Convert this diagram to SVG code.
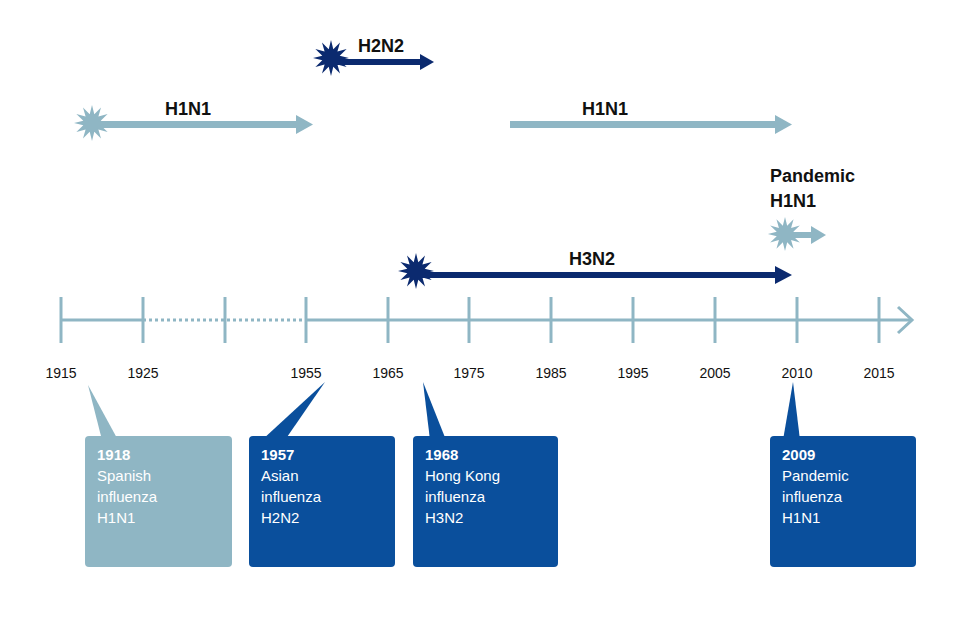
<svg xmlns="http://www.w3.org/2000/svg" width="960" height="640" viewBox="0 0 960 640">
<style>
text{font-family:"Liberation Sans",Arial,sans-serif}
.yr{font-size:14px;fill:#111;text-anchor:middle}
.lbl{font-size:18px;font-weight:bold;fill:#111}
.bt{font-size:15px;fill:#fff}
.light{fill:#8fb6c4}
.dark{fill:#0b2a6f}
.box{fill:#0a4f9c}
.lboxf{fill:#8fb6c4}
.ax{stroke:#8fb6c4;stroke-width:3;fill:none}
</style>
<defs>
<polygon id="star" points="18,0 8.7,2.3 15.6,9 6.4,6.4 9,15.6 2.3,8.7 0,18 -2.3,8.7 -9,15.6 -6.4,6.4 -15.6,9 -8.7,2.3 -18,0 -8.7,-2.3 -15.6,-9 -6.4,-6.4 -9,-15.6 -2.3,-8.7 0,-18 2.3,-8.7 9,-15.6 6.4,-6.4 15.6,-9 8.7,-2.3"/>
</defs>
<rect width="960" height="640" fill="#fff"/>
<g id="axis">
<line class="ax" x1="61" y1="320" x2="143" y2="320"/>
<line class="ax" x1="143" y1="320" x2="306" y2="320" stroke-dasharray="3,3"/>
<line class="ax" x1="306" y1="320" x2="910" y2="320"/>
<polyline class="ax" points="898,307 912,320 898,333"/>
<g class="ax"><line x1="61" y1="297" x2="61" y2="343"/><line x1="143" y1="297" x2="143" y2="343"/><line x1="225" y1="297" x2="225" y2="343"/><line x1="306" y1="297" x2="306" y2="343"/><line x1="388" y1="297" x2="388" y2="343"/><line x1="469" y1="297" x2="469" y2="343"/><line x1="551" y1="297" x2="551" y2="343"/><line x1="633" y1="297" x2="633" y2="343"/><line x1="715" y1="297" x2="715" y2="343"/><line x1="797" y1="297" x2="797" y2="343"/><line x1="879" y1="297" x2="879" y2="343"/></g>
<text class="yr" x="61" y="378">1915</text><text class="yr" x="143" y="378">1925</text><text class="yr" x="306" y="378">1955</text><text class="yr" x="388" y="378">1965</text><text class="yr" x="469" y="378">1975</text><text class="yr" x="551" y="378">1985</text><text class="yr" x="633" y="378">1995</text><text class="yr" x="715" y="378">2005</text><text class="yr" x="797" y="378">2010</text><text class="yr" x="879" y="378">2015</text>
</g>
<g id="connectors">
<g id="h1n1-early"><rect class="light" x="92" y="121" width="206" height="7"/><polygon class="light" points="296,115 313,124.5 296,134"/><use href="#star" class="light" transform="translate(92,123)"/><text class="lbl" x="165" y="115">H1N1</text></g>
<g id="h2n2"><rect class="dark" x="330" y="59" width="92" height="6"/><polygon class="dark" points="420,54 434,62 420,70"/><use href="#star" class="dark" transform="translate(331,58)"/><text class="lbl" x="358" y="52">H2N2</text></g>
<g id="h1n1-late"><rect class="light" x="510" y="121" width="267" height="7"/><polygon class="light" points="775,115 792,124.5 775,134"/><text class="lbl" x="582" y="115">H1N1</text></g>
<g id="h3n2"><rect class="dark" x="415" y="272" width="362" height="6"/><polygon class="dark" points="775,266 792,275 775,284"/><use href="#star" class="dark" transform="translate(416,271)"/><text class="lbl" x="569" y="265">H3N2</text></g>
<g id="pandemic"><rect class="light" x="785" y="232" width="28" height="6"/><polygon class="light" points="811,226 826,235 811,244"/><use href="#star" class="light" transform="translate(785,234) scale(0.95)"/><text class="lbl" x="770" y="182">Pandemic</text><text class="lbl" x="770" y="207">H1N1</text></g>
</g>
<g id="box1918"><polygon class="lboxf" points="88,385 102,440 118,440"/><rect class="lboxf" x="85" y="436" width="147" height="131" rx="4"/><text class="bt" x="97" y="460" font-weight="bold">1918</text><text class="bt" x="97" y="481">Spanish</text><text class="bt" x="97" y="502">influenza</text><text class="bt" x="97" y="523">H1N1</text></g>
<g id="box1957"><polygon class="box" points="325,382 262,440 285,440"/><rect class="box" x="249" y="436" width="146" height="131" rx="4"/><text class="bt" x="261" y="460" font-weight="bold">1957</text><text class="bt" x="261" y="481">Asian</text><text class="bt" x="261" y="502">influenza</text><text class="bt" x="261" y="523">H2N2</text></g>
<g id="box1968"><polygon class="box" points="423,382 430,440 446,440"/><rect class="box" x="413" y="436" width="145" height="131" rx="4"/><text class="bt" x="425" y="460" font-weight="bold">1968</text><text class="bt" x="425" y="481">Hong Kong</text><text class="bt" x="425" y="502">influenza</text><text class="bt" x="425" y="523">H3N2</text></g>
<g id="box2009"><polygon class="box" points="793,382 783,440 800,440"/><rect class="box" x="770" y="436" width="146" height="131" rx="4"/><text class="bt" x="782" y="460" font-weight="bold">2009</text><text class="bt" x="782" y="481">Pandemic</text><text class="bt" x="782" y="502">influenza</text><text class="bt" x="782" y="523">H1N1</text></g>
</svg>
